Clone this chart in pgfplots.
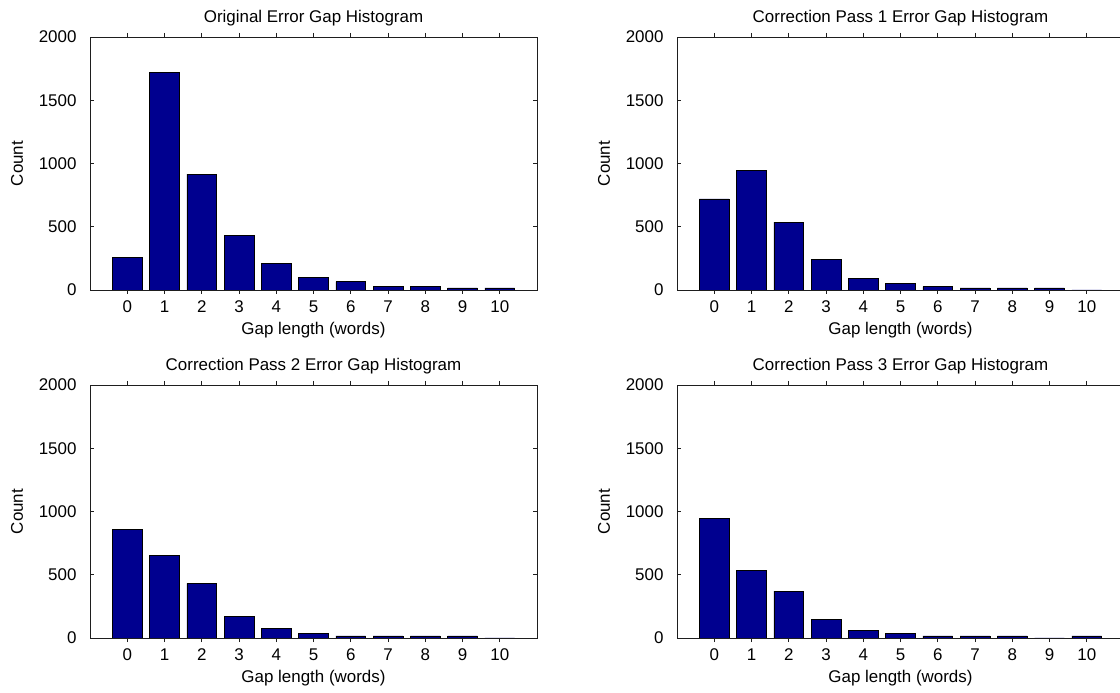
\documentclass[border=0pt]{standalone}
\usepackage{fontspec}
\setmainfont{Liberation Sans}
\usepackage{pgfplots}
\pgfplotsset{compat=1.18}
\definecolor{barblue}{RGB}{0,0,143}
\definecolor{axgray}{RGB}{30,30,30}
\pgfplotsset{hist/.style={
  scale only axis, width=447bp, height=253bp,
  anchor=south west,
  xmin=-1, xmax=11, ymin=0, ymax=2000,
  xtick={0,...,10}, ytick={0,500,...,2000},
  tick align=inside, major tick length=4bp,
  tick style={axgray, line width=0.6bp},
  axis line style={axgray, line width=0.7bp},
  /pgf/number format/assume math mode=true,
  /pgf/number format/1000 sep={},
  xticklabel style={yshift=-3bp},
  yticklabel style={xshift=-10bp},
  xlabel={Gap length (words)}, ylabel={Count},
  xlabel style={at={(axis description cs:0.5,-0.16)}, anchor=center},
  ylabel style={at={(axis description cs:-0.163,0.5)}, anchor=center},
  title style={at={(axis description cs:0.5,1.051)}, anchor=center},
  ybar, bar width=0.8,
}}
\begin{document}
\begin{tikzpicture}[font=\fontsize{17}{20}\selectfont]
\useasboundingbox (0,0) rectangle (1120bp,693bp);
\begin{axis}[hist, at={(90bp,403bp)}, title={Original Error Gap Histogram}]
\addplot[fill=barblue, draw=black, line width=0.6bp] coordinates {(0,260) (1,1720) (2,915) (3,433) (4,210) (5,98) (6,66) (7,26) (8,26) (9,16) (10,16)};
\end{axis}
\begin{axis}[hist, at={(677bp,403bp)}, title={Correction Pass 1 Error Gap Histogram}]
\addplot[fill=barblue, draw=black, line width=0.6bp] coordinates {(0,720) (1,943) (2,537) (3,239) (4,90) (5,52) (6,26) (7,16) (8,16) (9,16) (10,0)};
\end{axis}
\begin{axis}[hist, at={(90bp,55bp)}, title={Correction Pass 2 Error Gap Histogram}]
\addplot[fill=barblue, draw=black, line width=0.6bp] coordinates {(0,856) (1,653) (2,432) (3,171) (4,75) (5,35) (6,16) (7,16) (8,16) (9,16) (10,0)};
\end{axis}
\begin{axis}[hist, at={(677bp,55bp)}, title={Correction Pass 3 Error Gap Histogram}]
\addplot[fill=barblue, draw=black, line width=0.6bp] coordinates {(0,944) (1,533) (2,371) (3,144) (4,59) (5,35) (6,16) (7,16) (8,16) (9,0) (10,16)};
\end{axis}
\end{tikzpicture}
\end{document}
